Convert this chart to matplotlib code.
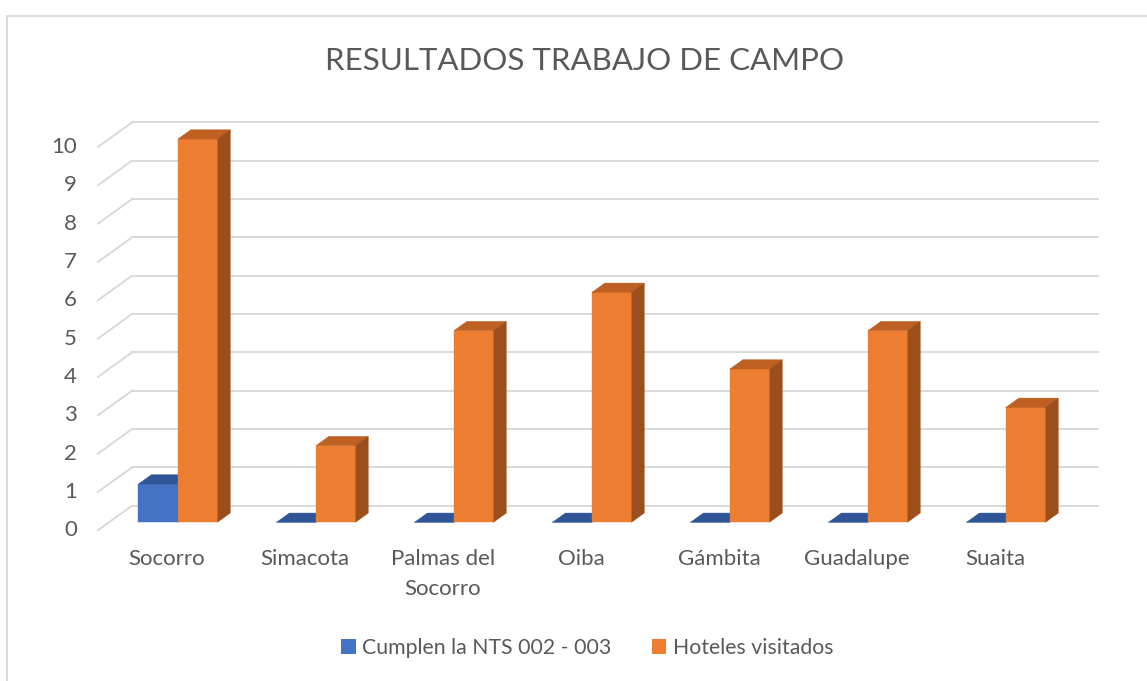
import matplotlib

matplotlib.use("Agg")
import matplotlib.pyplot as plt
import matplotlib.transforms as mtransforms
import numpy as np
from matplotlib.lines import Line2D
from matplotlib.patches import Patch, Polygon

categories = ["Socorro", "Simacota", "Palmas del\nSocorro", "Oiba", "Gámbita", "Guadalupe", "Suaita"]
cumplen = [1, 0, 0, 0, 0, 0, 0]
visitados = [10, 2, 5, 6, 4, 5, 3]
series_names = ["Cumplen la NTS 002 - 003", "Hoteles visitados"]
yticks = list(range(0, 11))

TEXT = "#595959"
GRID = "#D9D9D9"
# (front, top, side) shades of each series
BLUE = ("#4472C4", "#2F5597", "#2B4C86")
ORANGE = ("#ED7D31", "#BE6022", "#9A4F1D")

W, H = 1147, 681
DEPTH = np.array([-34.0, -24.5])  # px: back wall -> front edge of the floor
K_FRONT, K_BACK = 0.68, 0.30      # bar front / back face as fraction of DEPTH
BAR_W = 0.286

plt.rcParams["font.family"] = ["Lato", "DejaVu Sans"]
fig = plt.figure(figsize=(W / 100, H / 100), dpi=100)
# axes = back wall of the 3D chart
ax = fig.add_axes([132 / W, (H - 505.7) / H, (1098 - 132) / W, (505.7 - 122.4) / H])
ax.set_xlim(-0.5, len(categories) - 0.5)
ax.set_ylim(0, 10)
ax.axis("off")


def pt(x, y, k):
    px, py = ax.transData.transform((x, y))
    return (px + DEPTH[0] * k, py + DEPTH[1] * k)


def shifted(k, dx=0.0, dy=0.0):
    return ax.transData + mtransforms.Affine2D().translate(DEPTH[0] * k + dx, DEPTH[1] * k + dy)


ident = mtransforms.IdentityTransform()

# back wall gridlines + side wall diagonals + value labels
for v in yticks:
    ax.plot([-0.5, len(categories) - 0.5], [v, v], color=GRID, lw=1.4, zorder=1, clip_on=False)
    a, b = pt(-0.5, v, 0), pt(-0.5, v, 1)
    fig.add_artist(Line2D([a[0], b[0]], [a[1], b[1]], color=GRID, lw=1.4, transform=ident, zorder=1))
    ax.text(-0.5, v, str(v), transform=shifted(1, dx=-21), ha="right", va="center",
            fontsize=16, color=TEXT)

# bars (front, top, right side)
for i in range(len(categories)):
    for s, (vals, shades) in enumerate(((cumplen, BLUE), (visitados, ORANGE))):
        v = vals[i]
        x0 = i - BAR_W + s * BAR_W
        x1 = x0 + BAR_W
        faces = [
            [pt(x0, 0, K_FRONT), pt(x1, 0, K_FRONT), pt(x1, v, K_FRONT), pt(x0, v, K_FRONT)],
            [pt(x0, v, K_FRONT), pt(x1, v, K_FRONT), pt(x1, v, K_BACK), pt(x0, v, K_BACK)],
            [pt(x1, 0, K_FRONT), pt(x1, 0, K_BACK), pt(x1, v, K_BACK), pt(x1, v, K_FRONT)],
        ]
        for face, c in zip(faces, shades):
            fig.add_artist(Polygon(face, closed=True, facecolor=c, edgecolor=c, lw=0.3,
                                   transform=ident, zorder=3))

# category labels on the front edge of the floor
for i, name in enumerate(categories):
    ax.text(i, 0, name, transform=shifted(1, dy=-19), ha="center", va="top",
            fontsize=16, color=TEXT, linespacing=1.6)

fig.text(585 / W, 1 - 61 / H, "RESULTADOS TRABAJO DE CAMPO", ha="center", va="center",
         fontsize=22.5, color=TEXT)

handles = [Patch(facecolor=BLUE[0]), Patch(facecolor=ORANGE[0])]
fig.legend(handles, series_names, loc="center", bbox_to_anchor=(587 / W, 1 - 648 / H), ncol=2,
           frameon=False, fontsize=15.3, labelcolor=TEXT, handlelength=0.7, handleheight=0.7,
           handletextpad=0.3, columnspacing=1.9)

# chart area border (top and left visible)
fig.add_artist(Line2D([7, 7, W], [0, H - 15.5, H - 15.5], color=GRID, lw=1.4, transform=ident))

fig.savefig("out.png", dpi=100, facecolor="white")
